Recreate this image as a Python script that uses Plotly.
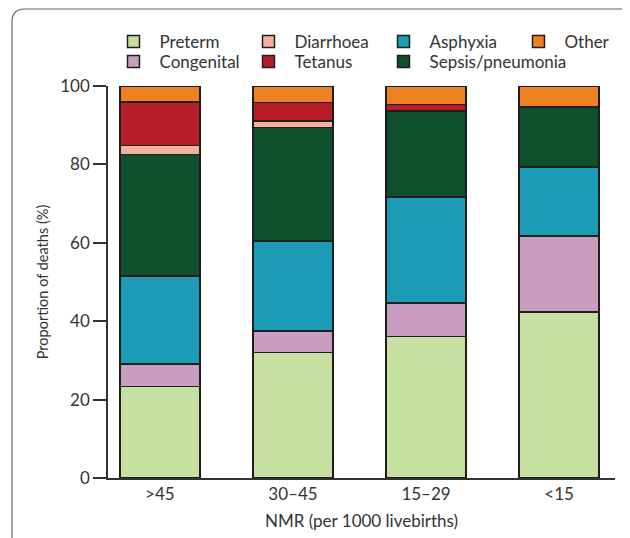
import plotly.graph_objects as go

categories = [">45", "30–45", "15–29", "<15"]

preterm = [23.3, 32.0, 36.1, 42.3]
congenital = [5.8, 5.5, 8.6, 19.4]
asphyxia = [22.4, 23.0, 27.0, 17.7]
sepsis = [31.0, 28.9, 21.9, 15.3]
diarrhoea = [2.3, 1.7, 0.0, 0.0]
tetanus = [11.1, 4.7, 1.7, 0.0]
other = [4.1, 4.2, 4.7, 5.3]

y_ticks = [0, 20, 40, 60, 80, 100]

# stacking order bottom->top, with legend row / rank
series = [
    ("Preterm", preterm, "#c5e0a0", "legend", 1),
    ("Congenital", congenital, "#c99dbd", "legend2", 1),
    ("Asphyxia", asphyxia, "#1b9bb6", "legend", 3),
    ("Sepsis/pneumonia", sepsis, "#0f4f2b", "legend3", 3),
    ("Diarrhoea", diarrhoea, "#f3b19c", "legend", 2),
    ("Tetanus", tetanus, "#b71d26", "legend2", 2),
    ("Other", other, "#ee8122", "legend", 4),
]

FONT = "Lato"
TXT = "#333333"
fig = go.Figure()
for name, vals, color, leg, rank in series:
    fig.add_trace(go.Bar(
        x=categories, y=vals, name=name,
        marker=dict(color=color, line=dict(color="#1e1e1e", width=1.5)),
        width=0.6, legend=leg, legendrank=rank,
    ))

OFF = 8  # page body margin
W, H = 630 - OFF, 538 - OFF
L, T = 108 - OFF, 86 - OFF
R = W - (615 - OFF)
B = H - (478 - OFF)
pw, ph = W - L - R, H - T - B

def px(x):  # screenshot pixel -> paper
    return (x - OFF - L) / pw

def py(y):
    return (H - B - (y - OFF)) / ph

frame = (f"M {px(12)},{py(560)} L {px(12)},{py(22)} "
         f"Q {px(12)},{py(9)} {px(25)},{py(9)} L {px(660)},{py(9)}")

ENTRY = 135  # column spacing in px
legend_common = dict(
    orientation="h", xanchor="left", yanchor="middle",
    itemwidth=42, entrywidth=ENTRY - 57, entrywidthmode="pixels",
    font=dict(family=FONT, size=17, color=TXT),
    bgcolor="rgba(0,0,0,0)", borderwidth=0, traceorder="normal",
)
x0 = -0.001
fig.update_layout(
    width=W, height=H,
    margin=dict(l=L, r=R, t=T, b=B, autoexpand=False),
    barmode="stack",
    plot_bgcolor="white", paper_bgcolor="white",
    font=dict(family=FONT, size=15, color=TXT),
    legend=dict(x=x0, y=py(42), **legend_common),
    legend2=dict(x=x0, y=py(62), **legend_common),
    legend3=dict(x=x0 + 2 * ENTRY / pw, y=py(62),
                 **{k: v for k, v in legend_common.items() if k not in ("entrywidth", "entrywidthmode")}),
    xaxis=dict(
        range=[-0.39, 3.42], showline=True, linecolor="#333333", linewidth=1.5,
        ticks="", showgrid=False, zeroline=False,
        tickfont=dict(family=FONT, size=17, color=TXT),
        title=dict(text="NMR (per 1000 livebirths)", standoff=12,
                   font=dict(family=FONT, size=17, color=TXT)),
    ),
    yaxis=dict(
        range=[0, 100], tickvals=y_ticks, showline=True, linecolor="#333333",
        linewidth=1.5, ticks="outside", ticklen=13, tickwidth=1.5, tickcolor="#333333",
        showgrid=False, zeroline=False,
        tickfont=dict(family=FONT, size=17, color=TXT),
        title=dict(text="Proportion of deaths (%)", standoff=8,
                   font=dict(family=FONT, size=14.5, color=TXT)),
    ),
    shapes=[dict(type="path", xref="paper", yref="paper", path=frame,
                 line=dict(color="#666666", width=1.2), layer="below")],
    showlegend=True,
)

fig.write_html("out.html")
